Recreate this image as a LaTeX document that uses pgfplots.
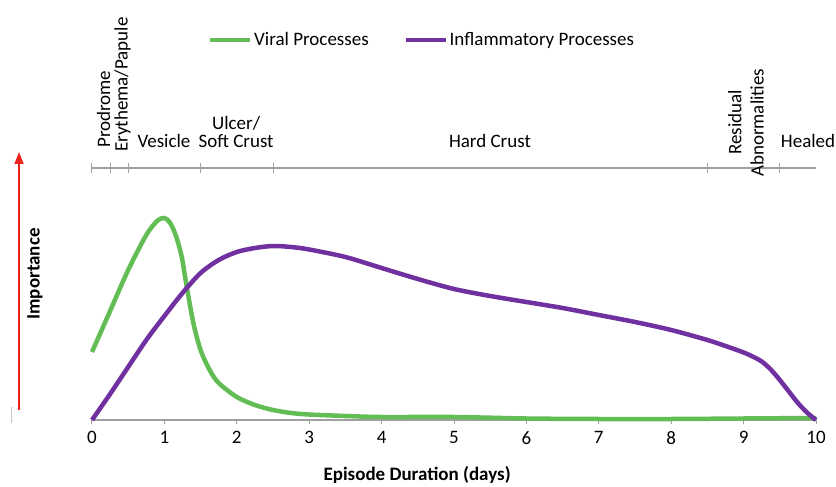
\documentclass[border=0pt]{standalone}
\usepackage{pgfplots}
\pgfplotsset{compat=1.18}
\usepackage{fontspec}
\setmainfont{Carlito}
\usetikzlibrary{arrows.meta}
\definecolor{vgreen}{RGB}{98,190,84}
\definecolor{ipurple}{RGB}{112,48,160}
\definecolor{axgray}{RGB}{160,160,160}
\definecolor{arrred}{RGB}{235,35,30}
\newcommand\fs{\fontsize{19bp}{22bp}\selectfont}
\begin{document}
\begin{tikzpicture}
\begin{axis}[
  scale only axis, width=724bp, height=280bp,
  xmin=0, xmax=10, ymin=0, ymax=280,
  axis x line*=bottom, axis y line=none,
  clip=false,
  xtick={0,1,...,10}, ytick=\empty,
  tick align=outside, major tick length=4bp,
  x axis line style={color=axgray, line width=1.2bp},
  xtick style={color=axgray, line width=1bp},
  /pgf/number format/assume math mode=true,
  xticklabel style={font=\fs, text=black, yshift=-4bp},
  legend columns=2,
  legend style={at={(axis cs:1.602,380)}, anchor=west, draw=none, fill=none,
    inner sep=0pt, font=\fs, nodes={inner xsep=2bp, inner ysep=0pt},
    /tikz/every even column/.append style={column sep=33bp}},
  legend cell align=left,
  legend image code/.code={\draw[#1, line width=4bp] (0bp,0bp) -- (40bp,0bp);},
]
\addplot[vgreen, line width=4.5bp, smooth, tension=0.5] coordinates {
(0,68) (0.25,109) (0.5,150) (0.75,185) (0.9,199) (1.0,202) (1.08,197)
(1.16,184) (1.24,163) (1.3,137) (1.4,97) (1.5,70) (1.625,50) (1.75,37) (2.0,23)
(2.25,15) (2.5,10) (2.75,7) (3.0,5.5) (3.5,4) (4,3) (5,3) (6,1.5) (7,1)
(8,1) (9,1.5) (10,2)};
\addlegendentry{Viral Processes}
\addplot[ipurple, line width=4.5bp, smooth, tension=0.5] coordinates {
(0,0) (0.25,26) (0.5,53) (0.75,80) (1.0,104) (1.25,127) (1.5,147)
(1.75,160) (2.0,168) (2.25,172) (2.5,174) (2.75,173) (3.0,170.5)
(3.5,163) (4.0,152) (4.5,141) (5.0,131) (5.5,124) (6.0,118) (6.5,112)
(7.0,105) (7.5,98) (8.0,90) (8.5,80) (8.75,74) (9.0,67.5) (9.125,63.5)
(9.25,58.5) (9.375,50.5) (9.5,40) (9.625,28.5) (9.75,17) (9.875,7.5) (10,0)};
\addlegendentry{Inflammatory Processes}
% stage timeline
\draw[axgray, line width=1.2bp] (axis cs:0,252) -- (axis cs:10,252);
\draw[axgray, line width=1bp] (axis cs:0,247) -- (axis cs:0,257);
\draw[axgray, line width=1bp] (axis cs:0.25,247) -- (axis cs:0.25,257);
\draw[axgray, line width=1bp] (axis cs:0.5,247) -- (axis cs:0.5,257);
\draw[axgray, line width=1bp] (axis cs:1.5,247) -- (axis cs:1.5,257);
\draw[axgray, line width=1bp] (axis cs:2.5,247) -- (axis cs:2.5,257);
\draw[axgray, line width=1bp] (axis cs:8.5,247) -- (axis cs:8.5,257);
\draw[axgray, line width=1bp] (axis cs:9.5,247) -- (axis cs:9.5,257);
\node[font=\fs, rotate=90, anchor=west, inner sep=0pt] at (axis cs:0.159,272) {Prodrome};
\node[font=\fs, rotate=90, anchor=west, inner sep=0pt] at (axis cs:0.421,268) {Erythema/Papule};
\node[font=\fs, anchor=base, inner sep=0pt] at (axis cs:0.994,272) {Vesicle};
\node[font=\fs, anchor=base, inner sep=0pt] at (axis cs:1.99,290) {Ulcer/};
\node[font=\fs, anchor=base, inner sep=0pt] at (axis cs:1.99,272) {Soft Crust};
\node[font=\fs, anchor=base, inner sep=0pt] at (axis cs:5.497,272) {Hard Crust};
\node[font=\fs, rotate=90, anchor=west, inner sep=0pt] at (axis cs:8.88,265) {Residual};
\node[font=\fs, rotate=90, anchor=west, inner sep=0pt] at (axis cs:9.185,243) {Abnormalities};
\node[font=\fs, anchor=base, inner sep=0pt] at (axis cs:9.89,272) {Healed};
% importance arrow
\draw[arrred, line width=1.8bp, -{Triangle[width=9bp,length=12bp]}] (axis cs:-1.008,10) -- (axis cs:-1.008,268);
\node[font=\fs\bfseries, rotate=90, anchor=center] at (axis cs:-0.787,146) {Importance};
\draw[axgray!60, line width=1bp] (axis cs:-1.105,13) -- (axis cs:-1.105,-3);
\node[font=\fs\bfseries, anchor=center] at (axis cs:4.49,-55) {Episode Duration (days)};
% bounding box
\path (axis cs:-1.2707,-65) rectangle (axis cs:10.2762,420);
\end{axis}
\end{tikzpicture}
\end{document}
